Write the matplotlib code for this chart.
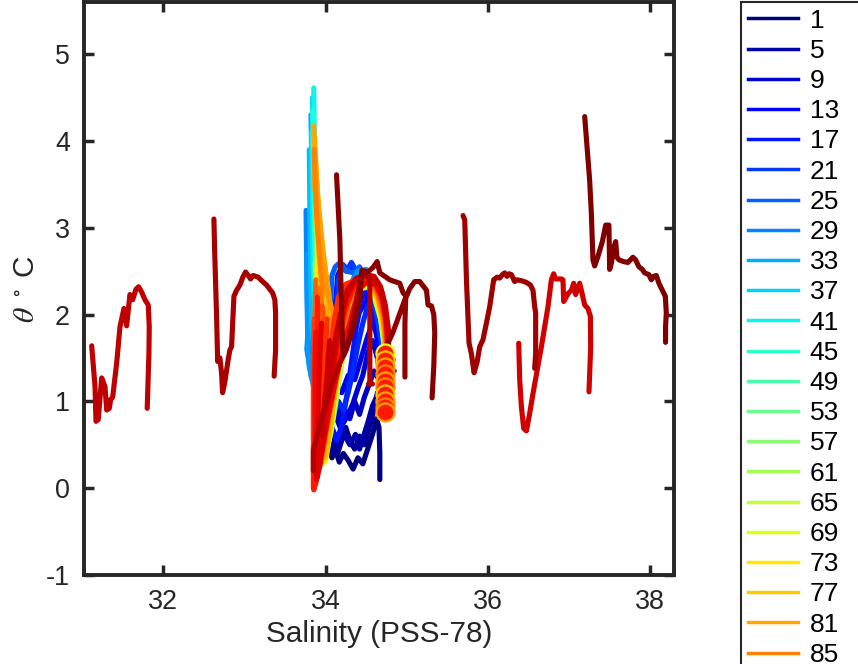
import matplotlib
matplotlib.use('Agg')
import matplotlib.pyplot as plt
from matplotlib.lines import Line2D

plt.rcParams['font.family'] = ['Liberation Sans', 'DejaVu Sans']
plt.rcParams['mathtext.fontset'] = 'stix'
plt.rcParams['axes.unicode_minus'] = False

N_PROF = 110
legend_ids = list(range(1, N_PROF, 4))

# --- profiles in the main cluster: (salinity, theta) ---
prof_001 = [(33.83, 2.69), (33.835, 2.45), (33.86, 1.9), (33.92, 1.3), (33.98, 0.85), (34.03, 0.5),
            (34.08, 0.35), (34.12, 0.45), (34.17, 0.30), (34.22, 0.40), (34.28, 0.32), (34.34, 0.22),
            (34.40, 0.35), (34.46, 0.28), (34.52, 0.45), (34.58, 0.62), (34.63, 0.80), (34.66, 0.70),
            (34.67, 0.40), (34.67, 0.10)]
prof_003 = [(33.95, 1.2), (34.0, 0.7), (34.05, 0.5), (34.1, 0.65), (34.15, 0.4), (34.2, 0.55),
            (34.25, 0.7), (34.3, 0.55), (34.36, 0.45), (34.42, 0.6), (34.48, 0.5), (34.54, 0.7),
            (34.6, 0.9), (34.64, 1.1), (34.68, 1.0), (34.72, 0.9)]
prof_005 = [(33.86, 2.0), (33.9, 1.4), (33.96, 0.95), (34.02, 0.6), (34.06, 0.42), (34.11, 0.60),
            (34.16, 0.48), (34.23, 0.62), (34.3, 0.5), (34.37, 0.62), (34.42, 0.45), (34.47, 0.6),
            (34.53, 0.78), (34.58, 0.95), (34.63, 1.05), (34.66, 0.95), (34.68, 1.1), (34.72, 1.0)]
prof_007 = [(34.0, 0.95), (34.06, 0.75), (34.12, 0.85), (34.18, 0.7), (34.24, 0.9), (34.3, 0.8),
            (34.36, 1.0), (34.42, 0.85), (34.48, 1.05), (34.54, 1.2), (34.6, 1.35), (34.66, 1.25),
            (34.7, 1.1)]
prof_009 = [(33.88, 1.7), (33.94, 1.15), (34.0, 0.85), (34.05, 0.95), (34.1, 0.78), (34.16, 0.9),
            (34.22, 0.75), (34.28, 0.85), (34.34, 0.98), (34.4, 1.15), (34.46, 1.3), (34.52, 1.55),
            (34.58, 1.7), (34.64, 1.5), (34.68, 1.25), (34.72, 1.05)]
prof_011 = [(33.9, 1.6), (33.98, 1.2), (34.05, 1.05), (34.12, 1.2), (34.2, 1.1), (34.28, 1.3),
            (34.36, 1.25), (34.44, 1.5), (34.52, 1.75), (34.6, 1.95), (34.66, 1.8), (34.7, 1.5),
            (34.72, 1.2)]
prof_013 = [(33.84, 2.3), (33.87, 1.7), (33.93, 1.1), (33.99, 0.7), (34.04, 0.55), (34.08, 0.9),
            (34.1, 1.5), (34.12, 2.1), (34.15, 2.45), (34.2, 2.55), (34.26, 2.5), (34.33, 2.55),
            (34.4, 2.45), (34.48, 2.3), (34.55, 2.1), (34.62, 1.8), (34.68, 1.5), (34.72, 1.25),
            (34.74, 1.05)]
prof_015 = [(34.05, 1.5), (34.12, 1.4), (34.2, 1.55), (34.3, 1.75), (34.4, 2.0), (34.5, 2.15),
            (34.6, 2.1), (34.68, 1.85), (34.72, 1.55), (34.74, 1.2)]
prof_017 = [(33.8, 2.4), (33.82, 1.9), (33.88, 1.3), (33.95, 0.85), (34.02, 0.62), (34.08, 0.7),
            (34.14, 0.55), (34.2, 0.72), (34.26, 1.05), (34.32, 1.45), (34.38, 1.85), (34.44, 2.15),
            (34.5, 2.3), (34.57, 2.25), (34.63, 2.0), (34.68, 1.7), (34.72, 1.4), (34.76, 1.2),
            (34.8, 1.15), (34.74, 1.05)]
prof_019 = [(33.85, 2.2), (33.9, 1.6), (33.96, 1.2), (34.02, 0.95), (34.1, 0.85), (34.16, 1.0),
            (34.22, 0.9), (34.28, 1.1), (34.34, 1.35), (34.4, 1.65), (34.46, 1.9), (34.52, 2.1),
            (34.6, 2.15), (34.66, 1.95), (34.7, 1.7), (34.74, 1.4), (34.74, 1.1)]
prof_021 = [(33.79, 2.9), (33.8, 2.3), (33.83, 1.7), (33.9, 1.15), (33.97, 0.8), (34.03, 0.72),
            (34.08, 0.95), (34.11, 1.4), (34.13, 2.0), (34.16, 2.4), (34.21, 2.58), (34.27, 2.52),
            (34.32, 2.6), (34.38, 2.5), (34.45, 2.42), (34.52, 2.35), (34.58, 2.2), (34.64, 1.95),
            (34.69, 1.65), (34.72, 1.45), (34.8, 1.42), (34.73, 1.35), (34.82, 1.3), (34.74, 1.22),
            (34.83, 1.15), (34.73, 1.05)]
prof_025 = [(33.78, 3.0), (33.775, 2.6), (33.79, 2.0), (33.82, 1.6), (33.88, 1.2), (33.95, 0.95),
            (34.0, 1.1), (34.04, 1.6), (34.06, 2.1), (34.08, 2.45), (34.12, 2.55), (34.18, 2.6),
            (34.25, 2.5), (34.35, 2.48), (34.42, 2.55), (34.5, 2.4), (34.58, 2.25), (34.66, 2.05),
            (34.72, 1.75), (34.75, 1.5), (34.84, 1.48), (34.75, 1.4), (34.85, 1.35), (34.74, 1.3)]
prof_029 = [(33.76, 3.2), (33.765, 2.8), (33.77, 2.3), (33.78, 1.75), (33.77, 1.6), (33.82, 1.3),
            (33.9, 1.0), (33.98, 0.9), (34.05, 1.1), (34.12, 1.5), (34.2, 1.9), (34.28, 2.25),
            (34.36, 2.45), (34.45, 2.5), (34.55, 2.35), (34.64, 2.15), (34.72, 1.85), (34.76, 1.6),
            (34.75, 1.3), (34.74, 1.1)]
prof_031 = [(33.77, 2.7), (33.775, 2.3), (33.78, 1.9), (33.785, 1.6), (33.8, 1.4), (33.85, 1.2),
            (33.92, 1.05), (34.0, 1.0), (34.08, 1.2), (34.16, 1.55), (34.24, 1.95), (34.32, 2.3),
            (34.4, 2.5), (34.5, 2.52), (34.6, 2.35), (34.68, 2.1), (34.74, 1.8), (34.77, 1.5),
            (34.76, 1.15)]
prof_033 = [(33.82, 4.3), (33.83, 3.8), (33.835, 3.2), (33.85, 2.6), (33.87, 2.1), (33.9, 1.5),
            (33.95, 1.0), (34.0, 0.7), (34.06, 0.85), (34.12, 1.2), (34.2, 1.65), (34.28, 2.05),
            (34.36, 2.35), (34.45, 2.45), (34.54, 2.4), (34.62, 2.2), (34.7, 1.9), (34.74, 1.6),
            (34.74, 1.2), (34.73, 0.95)]
prof_035 = [(33.8, 3.9), (33.805, 3.4), (33.81, 2.9), (33.82, 2.4), (33.83, 1.9), (33.86, 1.5),
            (33.92, 1.2), (33.99, 1.1), (34.06, 1.25), (34.14, 1.55), (34.22, 1.9), (34.3, 2.2),
            (34.38, 2.4), (34.48, 2.45), (34.58, 2.38), (34.66, 2.18), (34.72, 1.9), (34.75, 1.6),
            (34.74, 1.2)]
prof_037 = [(33.84, 4.5), (33.845, 4.0), (33.85, 3.4), (33.86, 2.8), (33.88, 2.2), (33.91, 1.6),
            (33.95, 1.1), (34.0, 0.8), (34.06, 0.95), (34.13, 1.3), (34.2, 1.7), (34.28, 2.05),
            (34.36, 2.3), (34.45, 2.42), (34.55, 2.38), (34.63, 2.2), (34.7, 1.95), (34.74, 1.7),
            (34.74, 1.3), (34.73, 0.9)]
prof_039 = [(33.83, 4.1), (33.835, 3.6), (33.84, 3.1), (33.845, 2.6), (33.86, 2.2), (33.89, 1.8),
            (33.94, 1.4), (34.0, 1.15), (34.07, 1.3), (34.15, 1.65), (34.23, 2.0), (34.31, 2.28),
            (34.4, 2.42), (34.5, 2.44), (34.6, 2.32), (34.68, 2.08), (34.73, 1.8), (34.75, 1.45),
            (34.74, 1.1)]
prof_041 = [(33.855, 4.61), (33.86, 4.2), (33.865, 3.6), (33.87, 3.0), (33.88, 2.5), (33.9, 1.9),
            (33.93, 1.4), (33.97, 0.95), (34.02, 0.75), (34.08, 0.95), (34.15, 1.3), (34.22, 1.7),
            (34.3, 2.05), (34.38, 2.3), (34.47, 2.4), (34.56, 2.35), (34.64, 2.15), (34.7, 1.9),
            (34.73, 1.65), (34.73, 1.25), (34.72, 0.95)]
prof_043 = [(33.845, 4.35), (33.85, 3.9), (33.86, 3.3), (33.87, 2.7), (33.885, 2.3), (33.91, 1.85),
            (33.95, 1.45), (34.0, 1.1), (34.06, 1.1), (34.13, 1.45), (34.21, 1.85), (34.29, 2.18),
            (34.38, 2.38), (34.48, 2.42), (34.58, 2.35), (34.66, 2.12), (34.72, 1.85), (34.74, 1.5),
            (34.73, 1.1)]
prof_045 = [(33.87, 3.3), (33.875, 2.8), (33.89, 2.3), (33.92, 1.7), (33.95, 1.2), (33.99, 0.8),
            (34.04, 0.7), (34.1, 1.0), (34.17, 1.4), (34.25, 1.85), (34.33, 2.15), (34.42, 2.32),
            (34.52, 2.33), (34.6, 2.2), (34.68, 1.95), (34.72, 1.65), (34.73, 1.3), (34.72, 0.95)]
prof_049 = [(33.88, 2.9), (33.89, 2.4), (33.91, 1.9), (33.94, 1.4), (33.97, 0.95), (34.01, 0.6),
            (34.06, 0.75), (34.12, 1.1), (34.2, 1.55), (34.28, 1.95), (34.36, 2.22), (34.45, 2.35),
            (34.55, 2.32), (34.63, 2.15), (34.7, 1.9), (34.73, 1.6), (34.73, 1.2), (34.72, 0.95)]
prof_053 = [(33.87, 2.6), (33.88, 2.2), (33.9, 1.7), (33.93, 1.2), (33.96, 0.8), (34.0, 0.5),
            (34.05, 0.65), (34.11, 1.0), (34.19, 1.5), (34.27, 1.9), (34.35, 2.2), (34.44, 2.35),
            (34.54, 2.33), (34.62, 2.18), (34.69, 1.92), (34.73, 1.62), (34.73, 1.2), (34.72, 0.92)]
prof_057 = [(33.89, 2.4), (33.9, 2.0), (33.92, 1.5), (33.95, 1.0), (33.98, 0.6), (34.02, 0.45),
            (34.07, 0.65), (34.13, 1.0), (34.2, 1.45), (34.28, 1.88), (34.36, 2.18), (34.45, 2.33),
            (34.55, 2.32), (34.63, 2.15), (34.7, 1.9), (34.74, 1.6), (34.74, 1.15), (34.73, 0.9)]
prof_061 = [(33.9, 2.6), (33.91, 2.1), (33.92, 1.6), (33.94, 1.1), (33.96, 0.65), (34.0, 0.4),
            (34.05, 0.6), (34.12, 1.0), (34.2, 1.45), (34.28, 1.85), (34.36, 2.15), (34.44, 2.3),
            (34.54, 2.32), (34.63, 2.18), (34.7, 1.92), (34.74, 1.62), (34.74, 1.2), (34.73, 0.9)]
prof_065 = [(33.88, 2.5), (33.885, 2.0), (33.9, 1.5), (33.92, 1.0), (33.94, 0.55), (33.98, 0.3),
            (34.04, 0.55), (34.1, 0.95), (34.18, 1.42), (34.26, 1.85), (34.34, 2.15), (34.42, 2.3),
            (34.52, 2.33), (34.61, 2.2), (34.68, 1.95), (34.73, 1.65), (34.74, 1.25), (34.73, 0.95)]
prof_069 = [(33.9, 2.8), (33.9, 2.3), (33.91, 1.8), (33.92, 1.3), (33.93, 0.8), (33.96, 0.4),
            (34.0, 0.3), (34.06, 0.65), (34.13, 1.1), (34.21, 1.6), (34.29, 1.98), (34.37, 2.22),
            (34.46, 2.33), (34.56, 2.32), (34.64, 2.15), (34.7, 1.9), (34.74, 1.6), (34.74, 1.2),
            (34.73, 0.95)]
prof_073 = [(33.87, 3.6), (33.89, 3.1), (33.91, 2.6), (33.93, 2.1), (33.93, 1.5), (33.93, 1.0),
            (33.94, 0.55), (33.97, 0.3), (34.02, 0.5), (34.09, 0.95), (34.17, 1.45), (34.25, 1.9),
            (34.33, 2.18), (34.42, 2.32), (34.52, 2.35), (34.61, 2.22), (34.68, 1.98), (34.73, 1.7),
            (34.74, 1.3), (34.73, 1.0)]
prof_075 = [(33.875, 3.85), (33.9, 3.4), (33.93, 3.0), (33.97, 2.65), (34.01, 2.35), (34.05, 2.1),
            (34.04, 1.8), (34.0, 1.4), (33.96, 0.95), (33.95, 0.55), (33.99, 0.45),
            (34.05, 0.8), (34.12, 1.25), (34.2, 1.72), (34.29, 2.08), (34.38, 2.3), (34.48, 2.38),
            (34.58, 2.33), (34.66, 2.14), (34.72, 1.85), (34.74, 1.45), (34.73, 1.05)]
prof_077 = [(33.855, 4.0), (33.87, 3.6), (33.9, 3.15), (33.94, 2.75), (33.98, 2.4), (34.02, 2.1),
            (34.0, 1.7), (33.97, 1.3), (33.95, 0.9), (33.97, 0.4), (34.01, 0.4), (34.08, 0.85),
            (34.16, 1.38), (34.24, 1.85), (34.32, 2.15), (34.41, 2.32), (34.5, 2.38), (34.6, 2.3),
            (34.68, 2.05), (34.73, 1.75), (34.74, 1.4), (34.73, 1.05)]
prof_079 = [(33.86, 3.7), (33.88, 3.3), (33.92, 2.9), (33.97, 2.55), (34.03, 2.25), (34.08, 2.0),
            (34.06, 1.6), (34.02, 1.2), (33.98, 0.8), (33.97, 0.45), (34.0, 0.35),
            (34.06, 0.7), (34.13, 1.2), (34.22, 1.7), (34.31, 2.08), (34.4, 2.3), (34.5, 2.38),
            (34.6, 2.32), (34.68, 2.1), (34.73, 1.8), (34.74, 1.4), (34.73, 1.05)]
prof_080 = [(33.865, 4.05), (33.88, 3.7), (33.91, 3.25), (33.95, 2.85), (34.0, 2.5), (34.04, 2.25),
            (34.02, 1.95), (33.97, 1.65), (33.93, 1.3), (33.91, 0.9), (33.92, 0.55), (33.96, 0.5),
            (34.03, 0.9), (34.11, 1.4), (34.2, 1.85), (34.3, 2.18), (34.4, 2.35), (34.52, 2.4),
            (34.62, 2.3), (34.7, 2.08), (34.74, 1.75), (34.75, 1.35), (34.74, 1.0)]
prof_081 = [(33.855, 4.17), (33.87, 3.85), (33.9, 3.4), (33.94, 3.0), (33.98, 2.65), (34.02, 2.35),
            (34.06, 2.1), (34.03, 1.75), (33.97, 1.4), (33.92, 1.0), (33.9, 0.5), (33.9, 0.2),
            (33.95, 0.3), (34.02, 0.7), (34.1, 1.2), (34.19, 1.72), (34.28, 2.08), (34.37, 2.3),
            (34.47, 2.4), (34.57, 2.36), (34.65, 2.18), (34.72, 1.9), (34.75, 1.55), (34.74, 1.15)]
prof_083 = [(33.87, 3.5), (33.9, 3.05), (33.94, 2.7), (33.99, 2.4), (34.05, 2.15), (34.1, 2.0),
            (34.07, 1.7), (34.0, 1.4), (33.95, 1.1), (33.92, 0.7), (33.92, 0.35),
            (33.97, 0.4), (34.05, 0.85), (34.14, 1.4), (34.23, 1.88), (34.32, 2.2), (34.42, 2.36),
            (34.53, 2.4), (34.63, 2.3), (34.7, 2.1), (34.75, 1.75), (34.75, 1.3), (34.74, 1.0)]
prof_085 = [(33.86, 3.9), (33.875, 3.45), (33.9, 3.0), (33.93, 2.6), (33.96, 2.3), (33.94, 1.95),
            (33.9, 1.5), (33.87, 1.0), (33.87, 0.5), (33.88, 0.15), (33.92, 0.25), (33.99, 0.65),
            (34.07, 1.15), (34.16, 1.7), (34.25, 2.08), (34.34, 2.3), (34.44, 2.4), (34.55, 2.38),
            (34.64, 2.25), (34.71, 2.0), (34.75, 1.65), (34.75, 1.25), (34.74, 0.95)]
prof_087 = [(33.92, 2.3), (33.95, 2.0), (33.94, 1.5), (33.92, 1.0), (33.9, 0.55), (33.92, 0.3),
            (33.97, 0.45), (34.03, 0.9), (34.08, 1.4), (34.13, 1.85), (34.2, 2.2), (34.3, 2.35),
            (34.42, 2.4), (34.55, 2.43), (34.65, 2.35), (34.72, 2.15), (34.75, 1.8), (34.75, 1.4),
            (34.74, 1.05)]
prof_089 = [(33.88, 2.4), (33.87, 2.0), (33.86, 1.5), (33.855, 1.0), (33.855, 0.5), (33.86, 0.1),
            (33.9, 0.2), (33.96, 0.55), (34.04, 1.05), (34.13, 1.6), (34.22, 2.0), (34.31, 2.25),
            (34.41, 2.38), (34.52, 2.4), (34.62, 2.3), (34.7, 2.1), (34.75, 1.8), (34.76, 1.45),
            (34.75, 1.1)]
prof_091 = [(33.96, 2.1), (33.98, 1.8), (33.96, 1.4), (33.93, 0.9), (33.9, 0.4), (33.89, 0.15),
            (33.95, 0.35), (34.02, 0.75), (34.1, 1.25), (34.2, 1.8), (34.28, 2.15), (34.38, 2.33),
            (34.5, 2.4), (34.6, 2.38), (34.7, 2.2), (34.75, 1.9), (34.76, 1.5), (34.75, 1.15)]
prof_093 = [(33.86, 1.95), (33.85, 1.5), (33.85, 1.0), (33.85, 0.5), (33.85, 0.0), (33.88, 0.05),
            (33.94, 0.45), (34.02, 0.95), (34.11, 1.5), (34.2, 1.95), (34.3, 2.25), (34.4, 2.38),
            (34.5, 2.42), (34.6, 2.38), (34.68, 2.2), (34.74, 1.95), (34.76, 1.6), (34.76, 1.2),
            (34.75, 0.9)]
prof_095 = [(34.02, 1.95), (34.0, 1.6), (33.97, 1.2), (33.94, 0.8), (33.92, 0.45), (33.95, 0.5),
            (34.0, 0.95), (34.05, 1.45), (34.1, 1.9), (34.16, 2.2), (34.25, 2.35), (34.38, 2.4),
            (34.5, 2.45), (34.62, 2.4), (34.7, 2.25), (34.75, 1.95), (34.77, 1.6), (34.76, 1.2)]
prof_097 = [(33.9, 2.2), (33.9, 1.8), (33.89, 1.3), (33.87, 0.8), (33.86, 0.3), (33.855, -0.02),
            (33.9, 0.15), (33.97, 0.6), (34.06, 1.15), (34.15, 1.65), (34.24, 2.05), (34.34, 2.3),
            (34.45, 2.42), (34.56, 2.44), (34.65, 2.35), (34.72, 2.15), (34.76, 1.85), (34.77, 1.5),
            (34.76, 1.1)]
prof_099 = [(33.88, 1.8), (33.87, 1.4), (33.87, 0.9), (33.88, 0.5), (33.9, 0.25), (33.96, 0.45),
            (34.04, 0.85), (34.14, 1.3), (34.24, 1.7), (34.34, 2.05), (34.42, 2.3), (34.52, 2.38),
            (34.62, 2.34), (34.7, 2.2), (34.75, 1.95), (34.77, 1.7), (34.76, 1.3)]
prof_101 = [(33.95, 1.9), (33.93, 1.5), (33.91, 1.0), (33.9, 0.5), (33.89, 0.1), (33.93, 0.25),
            (34.0, 0.75), (34.08, 1.3), (34.17, 1.85), (34.26, 2.2), (34.36, 2.38), (34.47, 2.45),
            (34.58, 2.42), (34.67, 2.3), (34.73, 2.05), (34.77, 1.75), (34.77, 1.35), (34.76, 1.0)]
prof_103 = [(34.05, 1.7), (34.02, 1.3), (33.98, 0.9), (33.95, 0.6), (33.97, 0.75), (34.03, 1.15),
            (34.1, 1.6), (34.18, 2.0), (34.27, 2.28), (34.38, 2.42), (34.5, 2.46), (34.6, 2.44),
            (34.68, 2.32), (34.74, 2.1), (34.78, 1.8), (34.77, 1.4), (34.76, 1.05)]
prof_105 = [(33.85, 0.2), (33.85, 0.44), (33.95, 0.8), (34.08, 1.2), (34.18, 1.45), (34.26, 1.6),
            (34.35, 2.0), (34.44, 2.44), (34.5, 2.45), (34.547, 2.4), (34.547, 2.0), (34.547, 1.6),
            (34.547, 1.21), (34.53, 1.2), (34.58, 1.2)]
prof_108 = [(34.73, 1.1), (34.75, 1.63), (34.83, 1.79), (34.92, 2.02), (34.99, 2.2), (34.98, 1.9),
            (34.98, 1.55), (34.98, 1.28)]
prof_109 = [(34.136, 3.61), (34.177, 2.86), (34.201, 1.94), (34.217, 1.52), (34.275, 1.65),
            (34.337, 1.82), (34.423, 2.17), (34.448, 2.51), (34.522, 2.49), (34.584, 2.54),
            (34.637, 2.61), (34.67, 2.48), (34.731, 2.44), (34.793, 2.40), (34.916, 2.36),
            (34.957, 2.25), (34.999, 2.21), (35.04, 2.30), (35.101, 2.38), (35.163, 2.38),
            (35.246, 2.28), (35.265, 2.11), (35.307, 2.10), (35.336, 2.0), (35.348, 1.79),
            (35.336, 1.40), (35.315, 1.04)]

# --- profiles with offset salinity ---
prof_104 = [(31.115, 1.64), (31.156, 1.17), (31.168, 0.77), (31.196, 0.79), (31.238, 1.27),
            (31.279, 1.17), (31.30, 0.90), (31.332, 0.92), (31.349, 1.02), (31.374, 1.05),
            (31.423, 1.44), (31.464, 1.86), (31.513, 2.07), (31.546, 1.87), (31.587, 2.23),
            (31.62, 2.17), (31.661, 2.29), (31.694, 2.32), (31.731, 2.26), (31.772, 2.17),
            (31.813, 2.11), (31.825, 1.86), (31.821, 1.55), (31.80, 0.92)]
prof_106 = [(32.623, 3.10), (32.632, 2.74), (32.656, 1.98), (32.669, 1.46), (32.697, 1.50),
            (32.718, 1.32), (32.73, 1.10), (32.759, 1.23), (32.799, 1.48), (32.82, 1.59),
            (32.841, 1.63), (32.87, 2.21), (32.903, 2.28), (32.944, 2.34), (32.984, 2.44),
            (33.014, 2.49), (33.046, 2.45), (33.075, 2.41), (33.108, 2.45), (33.169, 2.43),
            (33.224, 2.38), (33.273, 2.34), (33.313, 2.29), (33.347, 2.25), (33.375, 2.17),
            (33.384, 2.02), (33.384, 1.59), (33.366, 1.29)]
prof_107 = [(35.697, 3.14), (35.718, 3.09), (35.739, 2.40), (35.771, 1.67), (35.80, 1.55),
            (35.833, 1.33), (35.87, 1.45), (35.903, 1.63), (35.943, 1.71), (35.985, 1.90),
            (36.026, 2.09), (36.075, 2.40), (36.116, 2.43), (36.149, 2.42), (36.183, 2.46),
            (36.211, 2.48), (36.24, 2.44), (36.264, 2.47), (36.294, 2.46), (36.334, 2.38),
            (36.363, 2.40), (36.417, 2.39), (36.479, 2.37), (36.528, 2.34), (36.56, 2.28),
            (36.581, 2.09), (36.593, 2.02), (36.593, 1.55), (36.581, 1.38)]
prof_102 = [(36.384, 1.67), (36.396, 1.25), (36.417, 0.94), (36.445, 0.69), (36.479, 0.66),
            (36.519, 0.86), (36.56, 1.09), (36.664, 1.63), (36.745, 2.09), (36.787, 2.40),
            (36.815, 2.47), (36.84, 2.41), (36.91, 2.41), (36.93, 2.40), (36.939, 2.15),
            (36.992, 2.24), (37.034, 2.28), (37.062, 2.36), (37.087, 2.23), (37.136, 2.36),
            (37.169, 2.23), (37.198, 2.11), (37.238, 2.07), (37.268, 1.98), (37.272, 1.63),
            (37.251, 1.11)]
prof_110 = [(37.198, 4.28), (37.259, 3.55), (37.28, 3.17), (37.30, 2.63), (37.321, 2.56),
            (37.362, 2.67), (37.416, 2.84), (37.457, 3.03), (37.497, 3.03), (37.506, 2.52),
            (37.527, 2.59), (37.559, 2.78), (37.58, 2.84), (37.596, 2.66), (37.621, 2.63),
            (37.678, 2.61), (37.732, 2.60), (37.793, 2.66), (37.826, 2.63), (37.867, 2.55),
            (37.909, 2.52), (37.937, 2.48), (37.99, 2.46), (38.02, 2.40), (38.048, 2.44),
            (38.082, 2.45), (38.114, 2.36), (38.156, 2.28), (38.193, 2.21), (38.205, 2.02),
            (38.196, 1.86), (38.196, 1.68)]

# deepest samples marked with circles
circle_s = [34.73, 34.73, 34.735, 34.73, 34.735, 34.73, 34.735, 34.73, 34.735, 34.73]
circle_theta = [1.56, 1.48, 1.40, 1.32, 1.24, 1.16, 1.08, 1.00, 0.94, 0.88]
circle_id = [69, 77, 81, 85, 81, 85, 77, 81, 85, 81]

profiles = [
    (1, prof_001), (3, prof_003), (5, prof_005), (7, prof_007), (9, prof_009),
    (11, prof_011), (13, prof_013), (15, prof_015), (17, prof_017), (19, prof_019),
    (21, prof_021), (25, prof_025), (29, prof_029), (31, prof_031), (33, prof_033),
    (35, prof_035), (37, prof_037), (39, prof_039), (41, prof_041), (43, prof_043),
    (45, prof_045), (49, prof_049), (53, prof_053), (57, prof_057), (61, prof_061),
    (65, prof_065), (69, prof_069), (73, prof_073), (75, prof_075), (77, prof_077),
    (79, prof_079), (80, prof_080), (81, prof_081), (83, prof_083), (85, prof_085),
    (87, prof_087), (89, prof_089), (91, prof_091), (93, prof_093), (95, prof_095),
    (97, prof_097), (99, prof_099), (101, prof_101), (102, prof_102), (103, prof_103),
    (104, prof_104), (105, prof_105), (106, prof_106), (107, prof_107), (108, prof_108),
    (109, prof_109), (110, prof_110),
]

cmap = plt.get_cmap('jet')


def prof_color(i):
    return cmap((i - 1) / (N_PROF - 1))


dark = '#262626'
fig = plt.figure(figsize=(8.58, 6.64), dpi=100)
ax = fig.add_axes([84 / 858, 89 / 664, 590 / 858, 573 / 664])

for pid, pts in profiles:
    s, t = zip(*pts)
    ax.plot(s, t, color=prof_color(pid), lw=3.7, solid_joinstyle='round', solid_capstyle='round')

for s, t, cid in zip(circle_s, circle_theta, circle_id):
    ax.plot(s, t, 'o', ms=13, mfc=prof_color(97), mec=prof_color(cid), mew=1.6, zorder=5)

ax.set_xlim(31.02, 38.30)
ax.set_ylim(-1, 5.6)
ax.set_xticks([32, 34, 36, 38])
ax.set_yticks([-1, 0, 1, 2, 3, 4, 5])
ax.tick_params(direction='in', length=7, width=2.5, top=True, right=True, pad=10,
               labelsize=19.4, colors=dark)
for sp in ax.spines.values():
    sp.set_linewidth(2.8)
    sp.set_color(dark)

ax.set_xlabel('Salinity (PSS-78)', fontsize=21.4, color=dark)
ax.set_ylabel(r'$\theta$ $^\circ$ C', fontsize=21.4, color=dark)

handles = [Line2D([], [], color=prof_color(i), lw=2.5) for i in legend_ids]
labels = [str(i) for i in legend_ids]
leg = fig.legend(handles, labels, loc='upper left', bbox_to_anchor=(741 / 858, 1 - 2 / 664),
                 fontsize=19, frameon=True, fancybox=False, framealpha=1, edgecolor=dark,
                 handlelength=1.9, handletextpad=0.45, labelspacing=0.235, borderpad=0.25,
                 borderaxespad=0)
leg.get_frame().set_linewidth(1.5)

fig.savefig('out.png', dpi=100)
